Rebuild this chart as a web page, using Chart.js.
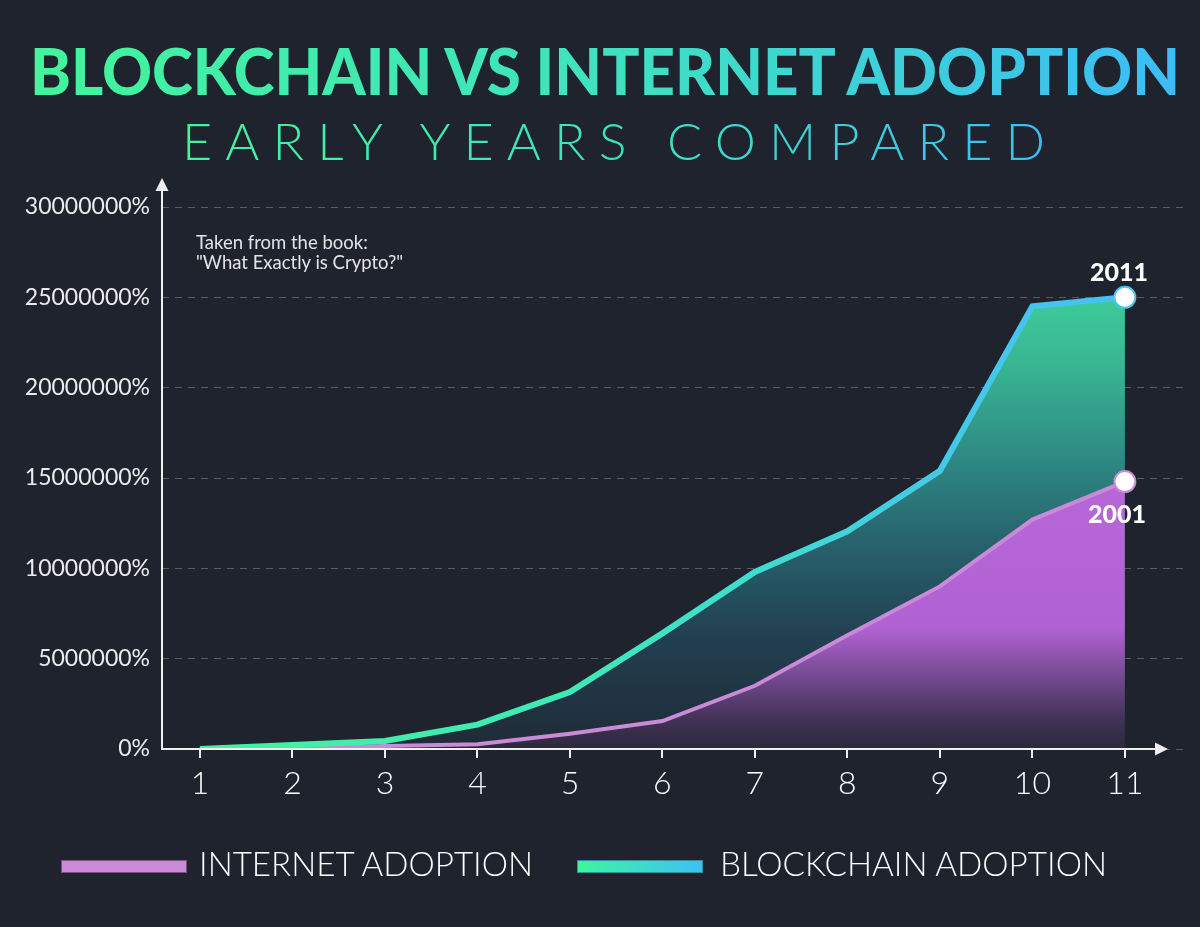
<!DOCTYPE html>
<html>
<head>
<meta charset="utf-8">
<script src="https://cdn.jsdelivr.net/npm/chart.js@4.4.1/dist/chart.umd.min.js"></script>
<style>
html,body{margin:0;padding:0;background:#1f232d;overflow:hidden;}
#wrap{position:relative;width:1200px;height:927px;background:#1f232d;}
#chartBox{position:absolute;left:0;top:0;width:1200px;height:927px;}
.fit{position:absolute;white-space:nowrap;transform-origin:0 0;line-height:1;margin:0;}
.grad{background:linear-gradient(90deg,#42f59b 0%,#3fe2bf 50%,#3cbcf6 100%);-webkit-background-clip:text;background-clip:text;color:transparent;-webkit-text-fill-color:transparent;}
#title{left:30px;top:39px;font-family:Lato,'Open Sans',sans-serif;font-weight:900;font-size:64px;}
#subtitle{left:182px;top:114px;font-family:Lato,'Open Sans',sans-serif;font-weight:300;font-size:52px;}
#note{position:absolute;left:196px;top:232px;font-family:Lato,'Open Sans',sans-serif;font-weight:400;font-size:18.5px;line-height:20px;color:#e4e4e6;}
.legbar{position:absolute;top:860px;width:126px;height:13px;box-sizing:border-box;}
.legtxt{top:847px;font-family:Lato,'Open Sans',sans-serif;font-weight:300;font-size:33px;color:#ffffff;}
</style>
</head>
<body>
<div id="wrap">
  <div id="chartBox"><canvas id="chart"></canvas></div>
  <span id="title" class="fit grad">BLOCKCHAIN VS INTERNET ADOPTION</span>
  <span id="subtitle" class="fit grad">EARLY YEARS COMPARED</span>
  <div id="note">Taken from the book:<br>"What Exactly is Crypto?"</div>
  <div class="legbar" style="left:61px;background:#c98ad6;border:1px solid #7d4f8e;"></div>
  <span id="leg0" class="fit legtxt" style="left:199px;"></span>
  <div class="legbar" style="left:577px;background:linear-gradient(90deg,#3ef5a0,#3fc0f5);border:1px solid #2f8f9e;"></div>
  <span id="leg1" class="fit legtxt" style="left:720px;"></span>
</div>
<script>
// ---- data ----
const categories = [1, 2, 3, 4, 5, 6, 7, 8, 9, 10, 11];
const internetAdoption = [0, 50000, 160000, 260000, 850000, 1550000, 3500000, 6300000, 9000000, 12700000, 14800000];
const blockchainAdoption = [0, 220000, 440000, 1350000, 3150000, 6400000, 9800000, 12050000, 15400000, 24500000, 25000000];
const yTicks = [0, 5000000, 10000000, 15000000, 20000000, 25000000, 30000000];
const seriesNames = ["INTERNET ADOPTION", "BLOCKCHAIN ADOPTION"];
const endLabels = ["2001", "2011"];

const lastIdx = categories.length - 1;
function toPoints(arr) { return categories.map((c, i) => ({ x: c, y: arr[i] })); }

document.getElementById('leg0').textContent = seriesNames[0];
document.getElementById('leg1').textContent = seriesNames[1];

function blockLine(ctx) {
  const ch = ctx.chart, xs = ch.scales.x;
  if (!ch.chartArea || !xs) return '#3fe0c4';
  const g = ch.ctx.createLinearGradient(xs.getPixelForValue(categories[0]), 0, xs.getPixelForValue(categories[lastIdx]), 0);
  g.addColorStop(0, '#40f3a0');
  g.addColorStop(0.4, '#3fe9b6');
  g.addColorStop(0.6, '#3fdccf');
  g.addColorStop(0.8, '#44c9e8');
  g.addColorStop(1, '#46c0f1');
  return g;
}
function blockFill(ctx) {
  const ch = ctx.chart, ys = ch.scales.y;
  if (!ch.chartArea || !ys) return 'rgba(62,200,150,0.6)';
  const top = ys.getPixelForValue(Math.max(...blockchainAdoption));
  const g = ch.ctx.createLinearGradient(0, top, 0, ys.getPixelForValue(0));
  g.addColorStop(0, '#3ecb99');
  g.addColorStop(0.15, '#38b592');
  g.addColorStop(0.35, '#2e8b85');
  g.addColorStop(0.55, '#27616c');
  g.addColorStop(0.75, '#224051');
  g.addColorStop(1, '#1f2a36');
  return g;
}
function netFill(ctx) {
  const ch = ctx.chart, ys = ch.scales.y;
  if (!ch.chartArea || !ys) return 'rgba(180,100,215,0.8)';
  const top = ys.getPixelForValue(Math.max(...internetAdoption));
  const g = ch.ctx.createLinearGradient(0, top, 0, ys.getPixelForValue(0));
  g.addColorStop(0, '#b767d8');
  g.addColorStop(0.55, '#b162d2');
  g.addColorStop(0.75, '#6d4689');
  g.addColorStop(0.9, '#3f3153');
  g.addColorStop(1, '#2b2a3b');
  return g;
}

const decor = {
  id: 'decor',
  afterDraw(chart) {
    const { ctx, chartArea: ca, scales } = chart;
    const ys = scales.y;
    const y0 = ys.getPixelForValue(0);
    ctx.save();
    ctx.strokeStyle = '#f0f0f2';
    ctx.fillStyle = '#f0f0f2';
    ctx.lineWidth = 2;
    // y axis with arrow
    ctx.beginPath(); ctx.moveTo(ca.left, y0 + 1); ctx.lineTo(ca.left, ca.top - 17); ctx.stroke();
    ctx.beginPath(); ctx.moveTo(ca.left, ca.top - 29); ctx.lineTo(ca.left - 6.5, ca.top - 16); ctx.lineTo(ca.left + 6.5, ca.top - 16); ctx.closePath(); ctx.fill();
    // x axis with arrow
    ctx.beginPath(); ctx.moveTo(ca.left - 1, y0); ctx.lineTo(ca.right - 28, y0); ctx.stroke();
    ctx.beginPath(); ctx.moveTo(ca.right - 17, y0); ctx.lineTo(ca.right - 30, y0 - 6.5); ctx.lineTo(ca.right - 30, y0 + 6.5); ctx.closePath(); ctx.fill();
    // end labels
    ctx.fillStyle = '#ffffff';
    ctx.font = '900 25px Lato, "Open Sans", sans-serif';
    ctx.textAlign = 'center';
    ctx.textBaseline = 'alphabetic';
    const pB = chart.getDatasetMeta(0).data[lastIdx];
    const pI = chart.getDatasetMeta(1).data[lastIdx];
    ctx.fillText(endLabels[1], pB.x - 6, pB.y - 16);
    ctx.fillText(endLabels[0], pI.x - 8, pI.y + 41);
    ctx.restore();
  }
};

new Chart(document.getElementById('chart'), {
  type: 'line',
  data: {
    datasets: [
      {
        label: seriesNames[1],
        data: toPoints(blockchainAdoption),
        borderColor: blockLine,
        borderWidth: 6,
        backgroundColor: blockFill,
        fill: { target: 1 },
        tension: 0,
        pointRadius: (c) => c.dataIndex === lastIdx ? 10.5 : 0,
        pointHoverRadius: (c) => c.dataIndex === lastIdx ? 10.5 : 0,
        pointBackgroundColor: '#ffffff',
        pointBorderColor: '#49c5ee',
        pointBorderWidth: 2
      },
      {
        label: seriesNames[0],
        data: toPoints(internetAdoption),
        borderColor: '#c98ad8',
        borderWidth: 4,
        backgroundColor: netFill,
        fill: 'origin',
        tension: 0,
        pointRadius: (c) => c.dataIndex === lastIdx ? 10.5 : 0,
        pointHoverRadius: (c) => c.dataIndex === lastIdx ? 10.5 : 0,
        pointBackgroundColor: '#ffffff',
        pointBorderColor: '#c98ad8',
        pointBorderWidth: 2
      }
    ]
  },
  options: {
    responsive: true,
    maintainAspectRatio: false,
    animation: false,
    events: [],
    layout: { padding: { left: 0, right: 15, top: 207, bottom: 118 } },
    plugins: {
      legend: { display: false },
      tooltip: { enabled: false },
      filler: { drawTime: 'beforeDatasetsDraw' }
    },
    scales: {
      x: {
        type: 'linear',
        min: 0.59,
        max: 11.65,
        afterBuildTicks: (s) => { s.ticks = categories.map(v => ({ value: v })); },
        afterFit: (s) => { s.height = 60; },
        grid: { display: true, drawOnChartArea: false, drawTicks: true, tickLength: 9, color: '#f0f0f2', lineWidth: 2 },
        border: { display: false },
        ticks: { color: '#ffffff', padding: 6, font: { family: 'Lato, "Open Sans", sans-serif', weight: '300', size: 32 }, maxRotation: 0, autoSkip: false }
      },
      y: {
        min: 0,
        max: 30000000,
        z: 1,
        afterBuildTicks: (s) => { s.ticks = yTicks.map(v => ({ value: v })); },
        afterFit: (s) => { s.width = 162; },
        grid: { color: 'rgba(255,255,255,0.26)', lineWidth: 1, drawTicks: false },
        border: { display: false, dash: [7, 6] },
        ticks: {
          color: '#ececee',
          padding: 12,
          font: { family: 'Lato, "Open Sans", sans-serif', weight: '400', size: 23 },
          callback: (v) => v + '%'
        }
      }
    }
  },
  plugins: [decor]
});

// fit header/legend text to the reference extents
function fitWidth(id, target) {
  const el = document.getElementById(id);
  el.style.transform = 'none';
  const w = el.getBoundingClientRect().width;
  if (w > 0) el.style.transform = 'scaleX(' + (target / w) + ')';
}
function fitSpacing(id, target) {
  const el = document.getElementById(id);
  el.style.letterSpacing = '0px';
  const w0 = el.getBoundingClientRect().width;
  const n = el.textContent.length;
  const ls = (target - w0) / (n - 1);
  el.style.letterSpacing = ls + 'px';
}
fitWidth('title', 1150);
fitSpacing('subtitle', 863);
fitWidth('leg0', 334);
fitWidth('leg1', 387);
</script>
</body>
</html>
